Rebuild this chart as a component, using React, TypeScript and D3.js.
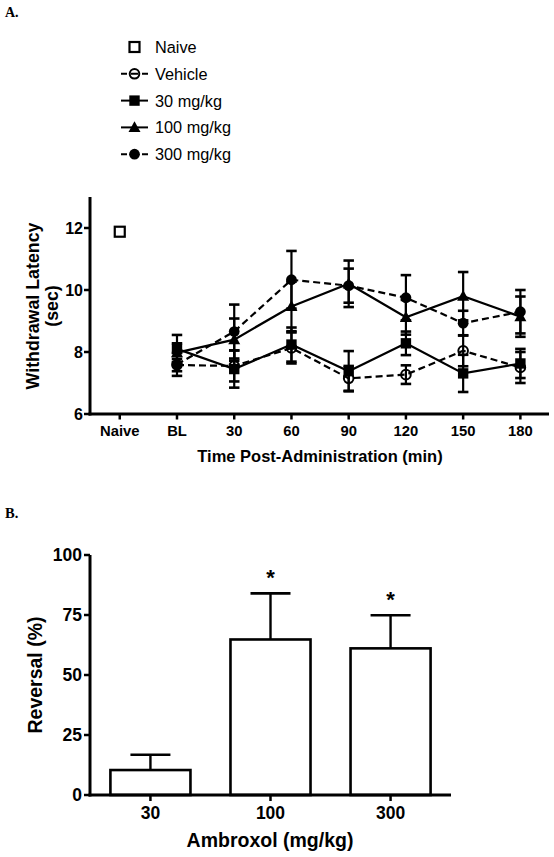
import React from "react";
import * as d3 from "d3";

// ---------- Data ----------
const timeCategories = ["Naive", "BL", "30", "60", "90", "120", "150", "180"];
const seriesTimes = ["BL", "30", "60", "90", "120", "150", "180"];

const naiveMean = [11.88];
const naiveSem = [0.08];

const vehicleMean = [7.58, 7.55, 8.13, 7.15, 7.27, 8.04, 7.5];
const vehicleSem = [0.2, 0.5, 0.5, 0.4, 0.3, 0.5, 0.5];

const mg30Mean = [8.1, 7.45, 8.24, 7.38, 8.28, 7.31, 7.63];
const mg30Sem = [0.45, 0.6, 0.55, 0.65, 0.38, 0.6, 0.47];

const mg100Mean = [7.98, 8.4, 9.47, 10.2, 9.12, 9.8, 9.14];
const mg100Sem = [0.3, 0.68, 0.8, 0.75, 0.56, 0.78, 0.65];

const mg300Mean = [7.6, 8.66, 10.33, 10.14, 9.75, 8.93, 9.3];
const mg300Sem = [0.37, 0.87, 0.93, 0.55, 0.73, 0.4, 0.7];

const yTicksA = [6, 8, 10, 12];

const doseCategories = ["30", "100", "300"];
const reversalMean = [10.4, 64.8, 61.1];
const reversalSem = [6.4, 19.2, 13.8];
const significant = [false, true, true];
const yTicksB = [0, 25, 50, 75, 100];

const legendLabels = ["Naive", "Vehicle", "30 mg/kg", "100 mg/kg", "300 mg/kg"];

// ---------- Style ----------
const FONT = "'Liberation Sans', Arial, Helvetica, sans-serif";
const SERIF = "'Liberation Serif', 'Times New Roman', serif";

type Marker = "openSquare" | "openCircle" | "square" | "triangle" | "circle";

const series: { mean: number[]; sem: number[]; marker: Marker; dashed: boolean }[] = [
  { mean: vehicleMean, sem: vehicleSem, marker: "openCircle", dashed: true },
  { mean: mg30Mean, sem: mg30Sem, marker: "square", dashed: false },
  { mean: mg100Mean, sem: mg100Sem, marker: "triangle", dashed: false },
  { mean: mg300Mean, sem: mg300Sem, marker: "circle", dashed: true },
];

const legendMarkers: Marker[] = ["openSquare", "openCircle", "square", "triangle", "circle"];
const legendDashed = [null, true, false, false, true];

function MarkerShape({ type, cx, cy }: { type: Marker; cx: number; cy: number }) {
  switch (type) {
    case "openSquare":
      return <rect x={cx - 5} y={cy - 5} width={10} height={10} fill="none" stroke="#000" strokeWidth={2.2} />;
    case "openCircle":
      return <circle cx={cx} cy={cy} r={4.8} fill="none" stroke="#000" strokeWidth={2} />;
    case "square":
      return <rect x={cx - 5.2} y={cy - 5.2} width={10.4} height={10.4} fill="#000" />;
    case "triangle":
      return <path d={`M${cx},${cy - 6.2}L${cx + 6},${cy + 4.6}L${cx - 6},${cy + 4.6}Z`} fill="#000" />;
    case "circle":
      return <circle cx={cx} cy={cy} r={5.4} fill="#000" />;
  }
}

function ErrorBar({ x, y1, y2, cap }: { x: number; y1: number; y2: number; cap: number }) {
  return (
    <g stroke="#000" strokeWidth={2.2}>
      <line x1={x} x2={x} y1={y1} y2={y2} />
      <line x1={x - cap / 2} x2={x + cap / 2} y1={y1} y2={y1} strokeWidth={2.6} />
      <line x1={x - cap / 2} x2={x + cap / 2} y1={y2} y2={y2} strokeWidth={2.6} />
    </g>
  );
}

export default function App() {
  // ---------- Panel A scales ----------
  const xA = d3.scaleLinear().domain([-0.52, 7.5]).range([90, 549]);
  const yA = d3.scaleLinear().domain([6, 13]).range([414, 197]);
  const xIdx = (cat: string) => xA(timeCategories.indexOf(cat));

  const lineGen = d3
    .line<number>()
    .x((_, i) => xIdx(seriesTimes[i]))
    .y((d) => yA(d));

  // ---------- Panel B scales ----------
  const xB = d3.scaleBand<string>().domain(doseCategories).range([90, 451]).paddingInner(1 / 3).paddingOuter(0.17);
  const yB = d3.scaleLinear().domain([0, 100]).range([795, 555]);

  const legendY = legendLabels.map((_, i) => 47 + 26.8 * i);

  return (
    <svg
      width={554}
      height={857}
      style={{ position: "absolute", left: 0, top: 0, background: "#fff" }}
      fontFamily={FONT}
    >
      <rect width={554} height={857} fill="#fff" />
      {/* Panel labels */}
      <text x={5} y={17} fontFamily={SERIF} fontWeight="bold" fontSize={14}>A.</text>
      <text x={5} y={518} fontFamily={SERIF} fontWeight="bold" fontSize={14.5}>B.</text>

      {/* Legend */}
      {legendLabels.map((lab, i) => {
        const y = legendY[i];
        const d = legendDashed[i];
        return (
          <g key={lab}>
            {d !== null && (
              <line
                x1={121}
                x2={148}
                y1={y}
                y2={y}
                stroke="#000"
                strokeWidth={2}
                strokeDasharray={d ? "6,4,7,4,6" : undefined}
              />
            )}
            <MarkerShape type={legendMarkers[i]} cx={134.5} cy={y} />
            <text x={155} y={y + 6} fontSize={16.3}>{lab}</text>
          </g>
        );
      })}

      {/* Panel A axes */}
      <g stroke="#000">
        <line x1={90} x2={90} y1={197} y2={415.5} strokeWidth={3} />
        <line x1={88.5} x2={549} y1={414} y2={414} strokeWidth={3} />
        {yTicksA.map((t) => (
          <line key={t} x1={84} x2={90} y1={yA(t)} y2={yA(t)} strokeWidth={2.5} />
        ))}
        {timeCategories.map((c) => (
          <line key={c} x1={xIdx(c)} x2={xIdx(c)} y1={414} y2={419.5} strokeWidth={2.5} />
        ))}
      </g>
      {yTicksA.map((t) => (
        <text key={t} x={83} y={yA(t) + 5.8} fontSize={16} fontWeight="bold" textAnchor="end">{t}</text>
      ))}
      {timeCategories.map((c) => (
        <text key={c} x={xIdx(c)} y={435.5} fontSize={14.8} fontWeight="bold" textAnchor="middle">{c}</text>
      ))}
      <text x={320} y={462} fontSize={16.5} fontWeight="bold" textAnchor="middle">Time Post-Administration (min)</text>
      <text transform="translate(38.5,306) rotate(-90)" fontSize={17.8} fontWeight="bold" textAnchor="middle">Withdrawal Latency</text>
      <text transform="translate(58,306) rotate(-90)" fontSize={17.8} fontWeight="bold" textAnchor="middle">(sec)</text>

      {/* Naive */}
      <ErrorBar x={xIdx("Naive")} y1={yA(naiveMean[0] + naiveSem[0])} y2={yA(naiveMean[0] - naiveSem[0])} cap={10} />
      <rect x={xIdx("Naive") - 5} y={yA(naiveMean[0]) - 5} width={10} height={10} fill="#fff" />
      <MarkerShape type="openSquare" cx={xIdx("Naive")} cy={yA(naiveMean[0])} />

      {/* Series lines */}
      {series.map((s, si) => (
        <path
          key={"l" + si}
          d={lineGen(s.mean) || ""}
          fill="none"
          stroke="#000"
          strokeWidth={2.2}
          strokeDasharray={s.dashed ? "7,4" : undefined}
        />
      ))}
      {/* Error bars */}
      {series.map((s, si) => (
        <g key={"e" + si}>
          {s.mean.map((m, i) => (
            <ErrorBar key={i} x={xIdx(seriesTimes[i])} y1={yA(m + s.sem[i])} y2={yA(m - s.sem[i])} cap={10.5} />
          ))}
        </g>
      ))}
      {/* Markers */}
      {series.map((s, si) => (
        <g key={"m" + si}>
          {s.mean.map((m, i) => (
            <MarkerShape key={i} type={s.marker} cx={xIdx(seriesTimes[i])} cy={yA(m)} />
          ))}
        </g>
      ))}

      {/* Panel B */}
      {doseCategories.map((c, i) => {
        const x0 = xB(c) as number;
        const w = xB.bandwidth();
        const cx = x0 + w / 2;
        const top = yB(reversalMean[i]);
        const errTop = yB(reversalMean[i] + reversalSem[i]);
        return (
          <g key={c}>
            <line x1={cx} x2={cx} y1={top} y2={errTop} stroke="#000" strokeWidth={2.4} />
            <line x1={cx - 20} x2={cx + 20} y1={errTop} y2={errTop} stroke="#000" strokeWidth={2.6} />
            <rect x={x0} y={top} width={w} height={yB(0) - top} fill="#fff" stroke="#000" strokeWidth={2.6} />
            {significant[i] && (
              <text x={cx} y={errTop - 20 + 12} fontSize={22} fontWeight="bold" textAnchor="middle">*</text>
            )}
          </g>
        );
      })}
      <g stroke="#000">
        <line x1={90} x2={90} y1={555} y2={796.5} strokeWidth={3} />
        <line x1={88.5} x2={451} y1={795} y2={795} strokeWidth={3} />
        {yTicksB.map((t) => (
          <line key={t} x1={84} x2={90} y1={yB(t)} y2={yB(t)} strokeWidth={2.5} />
        ))}
        {doseCategories.map((c) => {
          const cx = (xB(c) as number) + xB.bandwidth() / 2;
          return <line key={c} x1={cx} x2={cx} y1={795} y2={801} strokeWidth={2.5} />;
        })}
      </g>
      {yTicksB.map((t) => (
        <text key={t} x={82} y={yB(t) + 6.2} fontSize={17.5} fontWeight="bold" textAnchor="end">{t}</text>
      ))}
      {doseCategories.map((c) => (
        <text key={c} x={(xB(c) as number) + xB.bandwidth() / 2} y={819} fontSize={17.5} fontWeight="bold" textAnchor="middle">{c}</text>
      ))}
      <text x={270} y={847} fontSize={19.5} fontWeight="bold" textAnchor="middle">Ambroxol (mg/kg)</text>
      <text transform="translate(42,675) rotate(-90)" fontSize={19.5} fontWeight="bold" textAnchor="middle">Reversal (%)</text>
    </svg>
  );
}
